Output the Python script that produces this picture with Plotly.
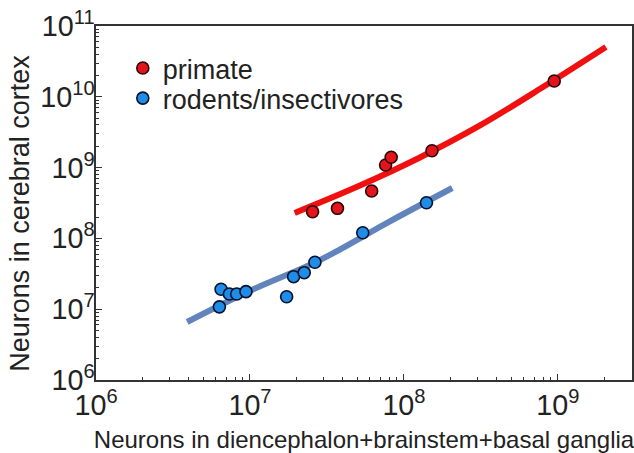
import plotly.graph_objects as go

# Primate data (neurons in diencephalon+brainstem+basal ganglia, neurons in cerebral cortex)
primate_x = [2.55e7, 3.7e7, 6.17e7, 7.6e7, 8.26e7, 1.52e8, 9.46e8]
primate_y = [2.38e8, 2.66e8, 4.67e8, 1.09e9, 1.40e9, 1.73e9, 1.67e10]

# Rodents / insectivores
rodent_x = [6.33e6, 6.49e6, 7.35e6, 8.2e6, 9.42e6, 1.73e7, 1.92e7, 2.25e7, 2.64e7, 5.4e7, 1.4e8]
rodent_y = [1.08e7, 1.91e7, 1.64e7, 1.64e7, 1.77e7, 1.5e7, 2.88e7, 3.28e7, 4.6e7, 1.2e8, 3.19e8]

# Fit curves
primate_fit_x = [1.95e7, 5.0e7, 1.26e8, 3.16e8, 7.9e8, 2.05e9]
primate_fit_y = [2.29e8, 5.4e8, 1.38e9, 4.0e9, 1.35e10, 5.05e10]
rodent_fit_x = [3.91e6, 1.0e7, 2.82e7, 7.94e7, 2.06e8]
rodent_fit_y = [6.6e6, 1.82e7, 4.9e7, 1.70e8, 5.15e8]

# Axis ranges (log10) and minor tick values
x_range = [6, 9.481]
y_range = [6, 11]
x_minor = [m * 10 ** e for e in range(6, 10) for m in range(2, 10)]
y_minor = [m * 10 ** e for e in range(6, 11) for m in range(2, 10)]

RED = "#e3141c"
BLUE = "#1f8ce8"
RED_LINE = "#f01010"
BLUE_LINE = "#6284bd"
FONT = "Liberation Sans, Arial, sans-serif"

fig = go.Figure()
fig.add_trace(go.Scatter(x=primate_fit_x, y=primate_fit_y, mode="lines",
                         line=dict(color=RED_LINE, width=6, shape="spline", smoothing=1.0),
                         showlegend=False, hoverinfo="skip"))
fig.add_trace(go.Scatter(x=rodent_fit_x, y=rodent_fit_y, mode="lines",
                         line=dict(color=BLUE_LINE, width=6, shape="spline", smoothing=1.0),
                         showlegend=False, hoverinfo="skip"))
fig.add_trace(go.Scatter(x=primate_x, y=primate_y, mode="markers", name="primate",
                         legend="legend", xaxis="x2", yaxis="y2",
                         marker=dict(size=12, color=RED, line=dict(color="#2a0505", width=1.6))))
fig.add_trace(go.Scatter(x=rodent_x, y=rodent_y, mode="markers", name="rodents/insectivores",
                         legend="legend2", xaxis="x2", yaxis="y2",
                         marker=dict(size=12, color=BLUE, line=dict(color="#04122a", width=1.6))))


def major_axis(rng):
    return dict(
        type="log", range=rng, dtick=1, exponentformat="power", showexponent="all",
        ticks="inside", ticklen=6, tickwidth=1.2, tickcolor="#333",
        showgrid=False, zeroline=False, showline=True, mirror=True,
        linecolor="#333", linewidth=1.5, automargin=False,
        tickfont=dict(family=FONT, size=23, color="#222"),
    )


def minor_axis(rng, vals, overlay):
    return dict(
        type="log", range=rng, tickmode="array", tickvals=vals, showticklabels=False,
        ticks="inside", ticklen=3, tickwidth=1.2, tickcolor="#333",
        showgrid=False, zeroline=False, showline=False, overlaying=overlay,
        automargin=False,
    )


xa = major_axis(x_range)
xa["title"] = dict(text="Neurons in diencephalon+brainstem+basal ganglia",
                   font=dict(family=FONT, size=24, color="#222"), standoff=12)
ya = major_axis(y_range)
ya["ticklabelstandoff"] = -5

xa2 = minor_axis(x_range, x_minor, "x")
xa2["anchor"] = "y2"
xa2["side"] = "bottom"
ya2 = minor_axis(y_range, y_minor, "y")
ya2["anchor"] = "x2"
ya2["side"] = "left"

legend_style = dict(xanchor="left", yanchor="middle", bgcolor="rgba(0,0,0,0)",
                    font=dict(family=FONT, size=27, color="#222"), itemwidth=30,
                    borderwidth=0)

fig.update_layout(
    width=634, height=453,
    margin=dict(l=96, r=2, t=26, b=73),
    paper_bgcolor="white", plot_bgcolor="white",
    font=dict(family=FONT, color="#222"),
    xaxis=xa, yaxis=ya, xaxis2=xa2, yaxis2=ya2,
    legend=dict(x=0.050, y=0.88, **legend_style),
    legend2=dict(x=0.050, y=0.795, **legend_style),
    annotations=[dict(text="Neurons in cerebral cortex", textangle=-90,
                      xref="paper", yref="paper", x=-0.142, y=0.472,
                      xanchor="center", yanchor="middle", showarrow=False,
                      font=dict(family=FONT, size=27, color="#222"))],
)

fig.write_html("out.html")
